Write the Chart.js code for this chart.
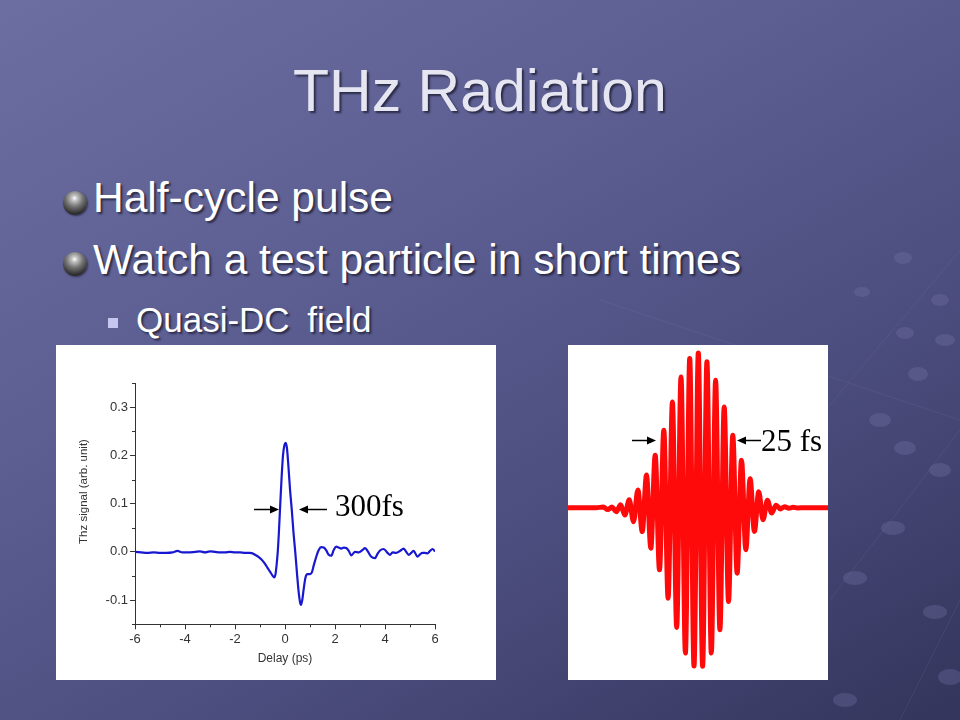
<!DOCTYPE html>
<html>
<head>
<meta charset="utf-8">
<script src="https://cdn.jsdelivr.net/npm/chart.js@4.4.1/dist/chart.umd.min.js"></script>
<style>
  html, body { margin: 0; padding: 0; }
  #slide {
    position: relative; width: 960px; height: 720px; overflow: hidden;
    background: linear-gradient(150deg, #6c6ea2 0%, #5d5f93 35%, #4c4e7f 65%, #34355c 100%);
    font-family: "Liberation Sans", Arial, sans-serif;
  }
  .txt { position: absolute; white-space: nowrap; line-height: 1; text-shadow: 2px 2px 2px rgba(25,25,45,0.75); }
  #title { left: 0; width: 960px; text-align: center; top: 62px; font-size: 59px; color: #e6e6f2; }
  #b1 { left: 93px; top: 177px; font-size: 42.5px; color: #ffffff; }
  #b2 { left: 93px; top: 239px; font-size: 42.5px; color: #ffffff; }
  #b3 { left: 136px; top: 302px; font-size: 35px; color: #ffffff; word-spacing: 8px; }
  .sphere { position: absolute; width: 24px; height: 24px; border-radius: 50%;
    background: radial-gradient(circle at 48% 30%, #ffffff 0%, #c4c4c4 13%, #747474 40%, #2a2a2a 76%, #141414 100%);
    box-shadow: 1px 1px 2px rgba(20,20,40,0.6); }
  #s1 { left: 63px; top: 191px; }
  #s2 { left: 63px; top: 252px; }
  #sq { position: absolute; left: 108px; top: 318px; width: 10px; height: 10px; background: #c6c6f0; }
  .panel { position: absolute; background: #ffffff; }
  #pL { left: 56px; top: 345px; width: 440px; height: 335px; }
  #pR { left: 568px; top: 345px; width: 260px; height: 335px; }
  canvas { display: block; }
  .ann { position: absolute; font-family: "Liberation Serif", "Times New Roman", serif; font-size: 31px; color: #000; line-height: 1; white-space: nowrap; }
  #a300 { left: 335px; top: 490px; }
  #a25 { left: 761px; top: 425px; }
  #overlay { position: absolute; left: 0; top: 0; }
  #deco { position: absolute; left: 0; top: 0; }
</style>
</head>
<body>
<div id="slide">
  <svg id="deco" width="960" height="720">
    <g stroke="rgba(150,150,200,0.13)" stroke-width="1" fill="none">
      <line x1="960" y1="250" x2="700" y2="560"/>
      <line x1="960" y1="430" x2="830" y2="600"/>
      <line x1="960" y1="600" x2="900" y2="720"/>
      <line x1="600" y1="300" x2="960" y2="420"/>
    </g>
    <g fill="rgba(125,125,175,0.28)">
      <ellipse cx="903" cy="258" rx="9" ry="6"/>
      <ellipse cx="862" cy="292" rx="8" ry="5"/>
      <ellipse cx="940" cy="300" rx="9" ry="6"/>
      <ellipse cx="905" cy="333" rx="9" ry="6"/>
      <ellipse cx="945" cy="340" rx="10" ry="6"/>
      <ellipse cx="918" cy="374" rx="10" ry="7"/>
      <ellipse cx="880" cy="420" rx="11" ry="7"/>
      <ellipse cx="905" cy="448" rx="11" ry="7"/>
      <ellipse cx="940" cy="470" rx="11" ry="7"/>
      <ellipse cx="893" cy="528" rx="12" ry="7"/>
      <ellipse cx="855" cy="578" rx="12" ry="7"/>
      <ellipse cx="935" cy="612" rx="12" ry="7"/>
      <ellipse cx="950" cy="677" rx="12" ry="8"/>
      <ellipse cx="845" cy="700" rx="12" ry="7"/>
    </g>
  </svg>
  <div id="title" class="txt">THz Radiation</div>
  <div id="s1" class="sphere"></div>
  <div id="s2" class="sphere"></div>
  <div id="b1" class="txt">Half-cycle pulse</div>
  <div id="b2" class="txt">Watch a test particle in short times</div>
  <div id="sq"></div>
  <div id="b3" class="txt">Quasi-DC field</div>

  <div id="pL" class="panel"><canvas id="cL" width="440" height="335"></canvas></div>
  <div id="pR" class="panel"><canvas id="cR" width="260" height="335"></canvas></div>

  <div id="a300" class="ann">300fs</div>
  <div id="a25" class="ann">25 fs</div>
  <svg id="overlay" width="960" height="720">
    <g stroke="#000" stroke-width="1.5">
      <line x1="254" y1="509.5" x2="272" y2="509.5"/>
      <line x1="306" y1="509.5" x2="327" y2="509.5"/>
      <line x1="632" y1="440.5" x2="649" y2="440.5"/>
      <line x1="744" y1="440.5" x2="761" y2="440.5"/>
    </g>
    <g fill="#000">
      <polygon points="279,509.5 270,505.5 270,513.5"/>
      <polygon points="299,509.5 308,505.5 308,513.5"/>
      <polygon points="656,440.5 647,436.5 647,444.5"/>
      <polygon points="737,440.5 746,436.5 746,444.5"/>
    </g>
  </svg>
</div>

<script>
// ---------------- Left chart data (THz half-cycle pulse) ----------------
const delayPs = [
  -6, -5.75, -5.5, -5.25, -5, -4.75, -4.5, -4.3, -4.1, -3.9, -3.6, -3.4, -3.2, -3, -2.8, -2.6, -2.4, -2.2, -2, -1.8, -1.6, -1.4,
  -1.3, -1.2, -1.1, -1.0, -0.9, -0.8, -0.7, -0.6, -0.5, -0.43, -0.38, -0.33, -0.29, -0.24, -0.2, -0.14, -0.08, -0.02,
  0.03, 0.08, 0.14, 0.2, 0.27, 0.34, 0.41, 0.48, 0.55, 0.6, 0.64, 0.69, 0.75, 0.82, 0.9, 1.0, 1.07, 1.15, 1.25, 1.35,
  1.45, 1.55, 1.65, 1.75, 1.85, 1.95, 2.05, 2.15, 2.25, 2.35, 2.45, 2.55, 2.65, 2.8, 2.95, 3.1, 3.2, 3.3, 3.45, 3.6,
  3.7, 3.8, 3.95, 4.1, 4.2, 4.3, 4.45, 4.6, 4.75, 4.85, 4.95, 5.05, 5.15, 5.3, 5.4, 5.5, 5.6, 5.7, 5.8, 5.9, 6.0
];
const thzSignal = [
  0.000, -0.001, -0.002, -0.001, -0.002, -0.002, -0.001, 0.002, -0.001, -0.001, 0.000, 0.001, -0.001, 0.001, 0.000, -0.001, -0.001, 0.000, -0.001, -0.001, -0.002, -0.002,
  -0.003, -0.006, -0.009, -0.013, -0.018, -0.025, -0.033, -0.041, -0.049, -0.053, -0.046, -0.024, 0.000, 0.045, 0.088, 0.150, 0.200, 0.222,
  0.226, 0.214, 0.175, 0.130, 0.088, 0.040, 0.000, -0.045, -0.085, -0.104, -0.110, -0.100, -0.076, -0.053, -0.046, -0.046, -0.043, -0.028, -0.010, 0.004,
  0.010, 0.009, 0.003, -0.006, -0.008, 0.004, 0.011, 0.009, 0.007, 0.009, 0.008, 0.002, -0.007, 0.000, -0.001, 0.004, 0.008, 0.002, -0.010, -0.013,
  -0.004, 0.003, 0.006, -0.002, -0.006, -0.001, -0.002, 0.002, 0.007, 0.000, -0.006, -0.002, 0.002, -0.010, -0.005, -0.002, -0.002, -0.003, 0.002, 0.006, 0.001
];
const xMajorTicks = [-6, -4, -2, 0, 2, 4, 6];
const xMinorTicks = [-5, -3, -1, 1, 3, 5];
const yMajorTicks = [-0.1, 0.0, 0.1, 0.2, 0.3];
const yMinorTicks = [-0.15, -0.05, 0.05, 0.15, 0.25, 0.35];
const xTitleText = 'Delay (ps)';
const yTitleText = 'Thz signal (arb. unit)';

// ---------------- Right chart data (25 fs optical pulse) ----------------
const pulseTimeFs = [
  -37.65, -29.4, -27.24, -25.97, -24.71, -23.44, -22.18, -20.91, -19.65, -18.38, -17.09, -15.82, -14.56, -13.29, -12.0, -10.74,
  -9.47, -8.21, -6.94, -5.68, -4.41, -3.12, -1.85, -0.59, 0.68, 1.94, 3.21, 4.5, 5.76, 7.03, 8.29, 9.56, 10.82, 12.09,
  13.38, 14.65, 15.91, 17.18, 18.44, 19.71, 21.0, 22.26, 23.53, 24.79, 26.06, 27.32, 28.59, 29.88, 32.06, 38.82
];
const pulseField = [
  0, 0, 0.004, -0.012, 0.004, -0.026, 0.018, -0.047, 0.050, -0.089, 0.113, -0.152, 0.208, -0.258, 0.334, -0.396,
  0.494, -0.576, 0.674, -0.763, 0.833, -0.926, 0.950, -1.008, 0.986, -1.010, 0.929, -0.926, 0.812, -0.778, 0.642, -0.597, 0.462, -0.417,
  0.303, -0.268, 0.185, -0.151, 0.101, -0.077, 0.048, -0.034, 0.016, -0.008, 0.006, -0.004, 0.003, -0.002, 0, 0
];

// ---------------- Plugins ----------------
const axisDecor = {
  id: 'axisDecor',
  afterDraw(chart) {
    const {ctx, scales: {x, y}} = chart;
    ctx.save();
    ctx.strokeStyle = '#333';
    ctx.lineWidth = 1;
    yMinorTicks.forEach(v => {
      const py = Math.round(y.getPixelForValue(v)) + 0.5;
      ctx.beginPath(); ctx.moveTo(y.right - 3, py); ctx.lineTo(y.right, py); ctx.stroke();
    });
    xMinorTicks.forEach(v => {
      const px = Math.round(x.getPixelForValue(v)) + 0.5;
      ctx.beginPath(); ctx.moveTo(px, x.top); ctx.lineTo(px, x.top + 3); ctx.stroke();
    });
    ctx.fillStyle = '#333';
    ctx.font = '11.5px "Liberation Sans", Arial, sans-serif';
    ctx.textAlign = 'center';
    ctx.textBaseline = 'middle';
    ctx.translate(27.5, 146.5);
    ctx.rotate(-Math.PI / 2);
    ctx.fillText(yTitleText, 0, 0);
    ctx.restore();
  }
};

Chart.defaults.font.family = '"Liberation Sans", Arial, sans-serif';
Chart.defaults.color = '#333';

new Chart(document.getElementById('cL'), {
  type: 'line',
  data: {
    datasets: [{
      data: delayPs.map((d, i) => ({x: d, y: thzSignal[i]})),
      borderColor: '#1818d0',
      borderWidth: 2.2,
      pointRadius: 0,
      cubicInterpolationMode: 'monotone',
      fill: false
    }]
  },
  options: {
    responsive: false,
    animation: false,
    layout: {padding: {left: 0, top: 38, right: 61, bottom: 0}},
    plugins: {legend: {display: false}, tooltip: {enabled: false}},
    scales: {
      x: {
        type: 'linear', min: -6, max: 6,
        afterBuildTicks: s => { s.ticks = xMajorTicks.map(v => ({value: v})); },
        afterFit: s => { s.height = 55.7; },
        ticks: {font: {size: 13}, color: '#333', padding: 2, maxRotation: 0, callback: v => String(v)},
        grid: {display: true, drawOnChartArea: false, drawTicks: true, tickLength: 5, color: '#333'},
        border: {display: true, color: '#333', width: 1},
        title: {display: true, text: xTitleText, font: {size: 12}, color: '#333', padding: {top: 0, bottom: 14.5}}
      },
      y: {
        type: 'linear', min: -0.15, max: 0.35,
        afterBuildTicks: s => { s.ticks = yMajorTicks.map(v => ({value: v})); },
        afterFit: s => { s.width = 79; },
        ticks: {font: {size: 13}, color: '#333', padding: 2, callback: v => v.toFixed(1)},
        grid: {display: true, drawOnChartArea: false, drawTicks: true, tickLength: 5, color: '#333'},
        border: {display: true, color: '#333', width: 1}
      }
    }
  },
  plugins: [axisDecor]
});

new Chart(document.getElementById('cR'), {
  type: 'line',
  data: {
    datasets: [{
      data: pulseTimeFs.map((t, i) => ({x: t, y: pulseField[i]})),
      borderColor: '#ff0a0a',
      borderWidth: 5,
      pointRadius: 0,
      cubicInterpolationMode: 'monotone',
      fill: false
    }]
  },
  options: {
    responsive: false,
    animation: false,
    layout: {padding: 0},
    plugins: {legend: {display: false}, tooltip: {enabled: false}},
    scales: {
      x: {type: 'linear', display: false, min: -37.65, max: 38.82},
      y: {type: 'linear', display: false, min: -1.0975, max: 1.0363}
    }
  }
});
</script>
</body>
</html>
